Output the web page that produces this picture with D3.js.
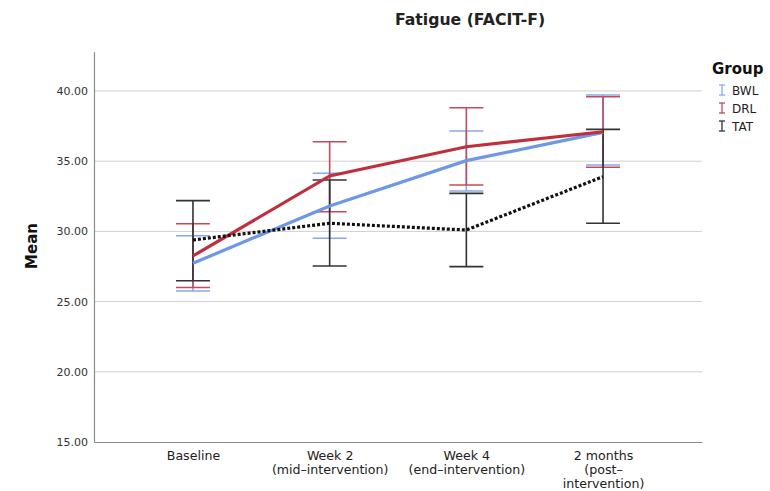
<!DOCTYPE html>
<html><head><meta charset="utf-8">
<script src="https://cdn.jsdelivr.net/npm/d3@7"></script>
<style>body{margin:0;background:#fff;} svg{display:block;} svg text{font-family:"DejaVu Sans",sans-serif;}</style>
</head><body>
<svg id="c" width="770" height="491"></svg>
<script>
const categories = ["Baseline", "Week 2\n(mid–intervention)", "Week 4\n(end–intervention)", "2 months\n(post–\nintervention)"];
const groups = ["BWL", "DRL", "TAT"];
const bwlMean = [27.73, 31.81, 35.04, 37.05];
const bwlLow  = [25.75, 29.51, 32.88, 34.73];
const bwlHigh = [29.69, 34.14, 37.15, 39.71];
const drlMean = [28.25, 33.95, 36.03, 37.10];
const drlLow  = [26.00, 31.40, 33.30, 34.57];
const drlHigh = [30.55, 36.39, 38.81, 39.59];
const tatMean = [29.39, 30.58, 30.10, 33.90];
const tatLow  = [26.49, 27.54, 27.49, 30.58];
const tatHigh = [32.19, 33.66, 32.71, 37.27];
const yTicks = [15, 20, 25, 30, 35, 40];

const series = [
  {name:"BWL", mean:bwlMean, low:bwlLow, high:bwlHigh, line:"#6e98e6", bar:"#86a9ea", dash:null},
  {name:"DRL", mean:drlMean, low:drlLow, high:drlHigh, line:"#bf2f3d", bar:"#c44a5c", dash:null},
  {name:"TAT", mean:tatMean, low:tatLow, high:tatHigh, line:"#111", bar:"#333", dash:"3,2"}
];

const svg = d3.select("#c");
const L = 94, R = 702, T = 52, B = 442;
const x = d3.scalePoint().domain(categories).range([L, R]).padding(0.724);
const y = d3.scaleLinear().domain([15, 42.8]).range([B, B - 27.8*14.04]);

// gridlines
svg.append("g").selectAll("line").data(yTicks.filter(d=>d>15)).join("line")
  .attr("x1", L).attr("x2", R).attr("y1", d=>y(d)).attr("y2", d=>y(d))
  .attr("stroke", "#cfcfcf").attr("stroke-width", 1);

// y axis
const yAxis = d3.axisLeft(y).tickValues(yTicks).tickFormat(d3.format(".2f")).tickSize(0).tickPadding(6);
const yg = svg.append("g").attr("transform", `translate(${L},0)`).call(yAxis)
  .attr("font-family", null).attr("font-size", null);
yg.select(".domain").attr("stroke", "#8a8a8a").attr("stroke-width", 1.2);
yg.selectAll("text").attr("font-size", 11).attr("fill", "#333");

// x axis
const xAxis = d3.axisBottom(x).tickSize(0).tickFormat("");
const xg = svg.append("g").attr("transform", `translate(0,${B})`).call(xAxis)
  .attr("font-family", null).attr("font-size", null);
xg.select(".domain").attr("stroke", "#8a8a8a").attr("stroke-width", 1.2);
xg.selectAll(".tick").each(function(d){
  const t = d3.select(this).append("text").attr("text-anchor","middle").attr("font-size",12.6).attr("fill","#222");
  d.split("\n").forEach((s,i)=>t.append("tspan").attr("x",0).attr("y",18+i*14).text(s));
});

// error bars
const cap = 17;
series.forEach(s=>{
  const g = svg.append("g").attr("stroke", s.bar).attr("stroke-width", 1.6).attr("fill","none");
  categories.forEach((c,i)=>{
    const cx = x(c);
    g.append("line").attr("x1",cx).attr("x2",cx).attr("y1",y(s.low[i])).attr("y2",y(s.high[i]));
    g.append("line").attr("x1",cx-cap).attr("x2",cx+cap).attr("y1",y(s.low[i])).attr("y2",y(s.low[i]));
    g.append("line").attr("x1",cx-cap).attr("x2",cx+cap).attr("y1",y(s.high[i])).attr("y2",y(s.high[i]));
  });
});

// lines
const line = d3.line().x((d,i)=>x(categories[i])).y(d=>y(d));
series.forEach(s=>{
  svg.append("path").datum(s.mean).attr("d", line).attr("fill","none")
    .attr("stroke", s.line).attr("stroke-width", 3.2)
    .attr("stroke-dasharray", s.dash);
});

// title
svg.append("text").attr("x", 470).attr("y", 25).attr("text-anchor","middle")
  .attr("font-size", 15.7).attr("font-weight","bold").attr("fill","#222").text("Fatigue (FACIT-F)");

// y label
svg.append("text").attr("transform", `translate(37,${246}) rotate(-90)`).attr("text-anchor","middle")
  .attr("font-size", 15).attr("font-weight","bold").attr("fill","#111").text("Mean");

// legend
svg.append("text").attr("x", 712).attr("y", 74).attr("font-size", 15).attr("font-weight","bold").attr("fill","#111").text("Group");
series.forEach((s,i)=>{
  const gy = 90 + i*18;
  const g = svg.append("g").attr("stroke", s.bar).attr("stroke-width", 1.3);
  g.append("line").attr("x1",722).attr("x2",722).attr("y1",gy-5).attr("y2",gy+5);
  g.append("line").attr("x1",719).attr("x2",725).attr("y1",gy-5).attr("y2",gy-5);
  g.append("line").attr("x1",719).attr("x2",725).attr("y1",gy+5).attr("y2",gy+5);
  svg.append("text").attr("x", 732).attr("y", gy+4.5).attr("font-size", 12).attr("fill","#222").text(s.name);
});
</script>
</body></html>
